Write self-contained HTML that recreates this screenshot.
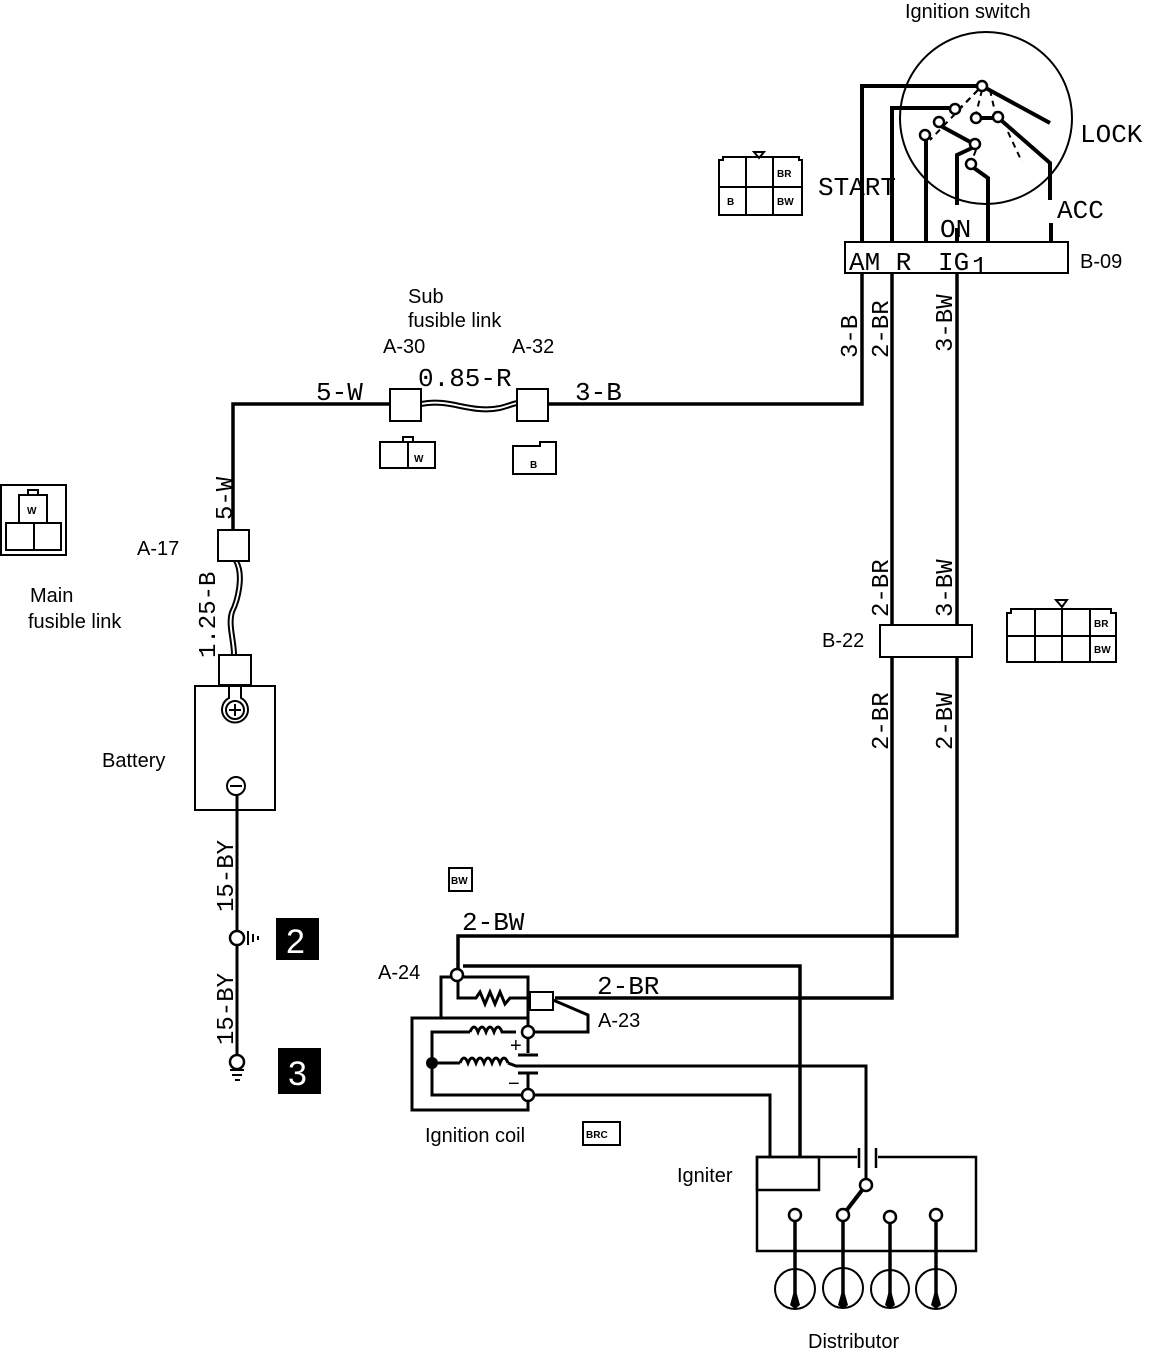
<!DOCTYPE html>
<html><head><meta charset="utf-8"><style>
html,body{margin:0;padding:0;background:#fff}
svg{display:block}
.s{font-family:"Liberation Sans",sans-serif;font-size:20px;fill:#000}
.m{font-family:"Liberation Mono",monospace;font-size:26px;fill:#000}
.sm{font-family:"Liberation Sans",sans-serif;font-size:10px;font-weight:bold;fill:#000}
</style></head><body>
<svg width="1152" height="1358" viewBox="0 0 1152 1358" xmlns="http://www.w3.org/2000/svg">
<g fill="none" stroke="#000" stroke-width="4">
<circle cx="986" cy="118" r="86" stroke-width="2"/>
<polyline points="862,242 862,86 981,86"/>
<line x1="982" y1="86" x2="1050" y2="123"/>
<polyline points="892,242 892,108 952,108"/>
<line x1="939" y1="125" x2="974" y2="144"/>
<line x1="926" y1="140" x2="926" y2="242"/>
<polyline points="972,148 957,155 957,205"/>
<line x1="980" y1="118" x2="995" y2="118"/>
<polyline points="1002,121 1050,163 1050,200"/>
<line x1="1051" y1="223" x2="1051" y2="242"/>
<polyline points="974,168 988,178 988,242"/>
<line x1="957" y1="228" x2="957" y2="242"/>
</g>
<g fill="none" stroke="#000" stroke-width="2" stroke-dasharray="6,5">
<line x1="978" y1="90" x2="960" y2="108"/>
<line x1="978" y1="90" x2="930" y2="140"/>
<line x1="982" y1="90" x2="976" y2="114"/>
<line x1="990" y1="90" x2="995" y2="112"/>
<line x1="976" y1="150" x2="972" y2="160"/>
<line x1="1008" y1="132" x2="1022" y2="162"/>
</g>
<g fill="#fff" stroke="#000" stroke-width="2.5">
<circle cx="982" cy="86" r="5"/><circle cx="955" cy="109" r="5"/><circle cx="939" cy="122" r="5"/>
<circle cx="925" cy="135" r="5"/><circle cx="976" cy="118" r="5"/><circle cx="998" cy="117" r="5"/>
<circle cx="975" cy="144" r="5"/><circle cx="971" cy="164" r="5"/>
</g>
<rect x="845" y="242" width="223" height="31" fill="#fff" stroke="#000" stroke-width="2"/>
<text class="m" x="849" y="270">AM R</text><text class="m" x="938" y="270">IG</text><text class="m" x="972" y="274" font-size="18">1</text>
<text class="s" x="1080" y="268">B-09</text>
<text class="s" x="905" y="18">Ignition switch</text>
<text class="m" x="818" y="195">START</text>
<text class="m" x="1080" y="142">LOCK</text>
<text class="m" x="1057" y="218">ACC</text>
<text class="m" x="940" y="237">ON</text>
<g fill="none" stroke="#000" stroke-width="2">
<path d="M719,160 h4 v-3 h76 v3 h3 v55 h-83z"/>
<line x1="746" y1="157" x2="746" y2="215"/><line x1="773" y1="157" x2="773" y2="215"/>
<line x1="719" y1="187" x2="802" y2="187"/>
<path d="M754,152 h10 l-5,6z"/>
</g>
<text class="sm" x="777" y="177">BR</text><text class="sm" x="727" y="205">B</text><text class="sm" x="777" y="205">BW</text>
<g fill="none" stroke="#000" stroke-width="3.5">
<polyline points="862,273 862,404 548,404"/>
<polyline points="892,273 892,625"/>
<polyline points="957,273 957,625"/>
<polyline points="892,657 892,998 555,998"/>
<polyline points="957,657 957,936 458,936 458,972"/>
<polyline points="463,966 800,966 800,1157"/>
<polyline points="421,404 233,404 233,530"/>
<polyline points="390,404 421,404"/>
</g>
<rect x="880" y="625" width="92" height="32" fill="#fff" stroke="#000" stroke-width="2"/>
<text class="s" x="822" y="647">B-22</text>
<g font-family="Liberation Mono,monospace" font-size="24">
<text transform="translate(857,358) rotate(-90)">3-B</text>
<text transform="translate(888,358) rotate(-90)">2-BR</text>
<text transform="translate(952,352) rotate(-90)">3-BW</text>
<text transform="translate(888,617) rotate(-90)">2-BR</text>
<text transform="translate(952,617) rotate(-90)">3-BW</text>
<text transform="translate(888,750) rotate(-90)">2-BR</text>
<text transform="translate(952,750) rotate(-90)">2-BW</text>
<text transform="translate(232,520) rotate(-90)">5-W</text>
<text transform="translate(215,658) rotate(-90)">1.25-B</text>
<text transform="translate(233,912) rotate(-90)">15-BY</text>
<text transform="translate(233,1045) rotate(-90)">15-BY</text>
</g>
<g fill="none" stroke="#000" stroke-width="2">
<path d="M1007,613 h4 v-4 h100 v4 h5 v49 h-109z"/>
<line x1="1035" y1="609" x2="1035" y2="662"/><line x1="1062" y1="609" x2="1062" y2="662"/><line x1="1090" y1="609" x2="1090" y2="662"/>
<line x1="1007" y1="636" x2="1116" y2="636"/>
<path d="M1056,600 h11 l-5,7z"/>
</g>
<text class="sm" x="1094" y="627">BR</text><text class="sm" x="1094" y="653">BW</text>
<rect x="390" y="389" width="31" height="32" fill="#fff" stroke="#000" stroke-width="2"/>
<rect x="517" y="389" width="31" height="32" fill="#fff" stroke="#000" stroke-width="2"/>
<path d="M421,402 C450,396 470,412 500,406 C508,404 512,402 517,401" fill="none" stroke="#000" stroke-width="2"/>
<path d="M421,406 C450,400 470,416 500,410 C508,408 512,406 517,405" fill="none" stroke="#000" stroke-width="2"/>
<text class="m" x="316" y="400" font-size="24">5-W</text>
<text class="m" x="418" y="386" font-size="26">0.85-R</text>
<text class="m" x="575" y="400" font-size="24">3-B</text>
<text class="s" x="383" y="353">A-30</text><text class="s" x="512" y="353">A-32</text>
<text class="s" x="408" y="303">Sub</text><text class="s" x="408" y="327">fusible link</text>
<g fill="none" stroke="#000" stroke-width="2">
<rect x="380" y="442" width="55" height="26"/><line x1="408" y1="442" x2="408" y2="468"/><rect x="403" y="437" width="10" height="5"/>
<path d="M513,446 h27 v-4 h16 v32 h-43z"/>
</g>
<text class="sm" x="414" y="462">W</text><text class="sm" x="530" y="468">B</text>
<rect x="218" y="530" width="31" height="31" fill="#fff" stroke="#000" stroke-width="2"/>
<path d="M234,561 C242,575 236,600 230,612 C226,625 232,640 232,655" fill="none" stroke="#000" stroke-width="2"/>
<path d="M238,561 C246,575 240,600 234,612 C230,625 236,640 236,655" fill="none" stroke="#000" stroke-width="2"/>
<text class="s" x="137" y="555">A-17</text>
<g fill="none" stroke="#000" stroke-width="2">
<rect x="1" y="485" width="65" height="70"/>
<rect x="19" y="495" width="28" height="28"/><rect x="28" y="490" width="10" height="5"/>
<rect x="6" y="523" width="28" height="27"/><rect x="34" y="523" width="27" height="27"/>
</g>
<text class="sm" x="27" y="514">W</text>
<text class="s" x="30" y="602">Main</text><text class="s" x="28" y="628">fusible link</text>
<rect x="219" y="655" width="32" height="30" fill="#fff" stroke="#000" stroke-width="2"/>
<rect x="195" y="686" width="80" height="124" fill="#fff" stroke="#000" stroke-width="2"/>
<path d="M229,686 v12 a13,13 0 1,0 12,0 v-12" fill="none" stroke="#000" stroke-width="2"/>
<circle cx="235" cy="710" r="9" fill="none" stroke="#000" stroke-width="2"/>
<path d="M229,710 h12 M235,704 v12" stroke="#000" stroke-width="2"/>
<circle cx="236" cy="786" r="9" fill="none" stroke="#000" stroke-width="2"/>
<path d="M230,786 h12" stroke="#000" stroke-width="2"/>
<text class="s" x="102" y="767">Battery</text>
<line x1="237" y1="795" x2="237" y2="1055" stroke="#000" stroke-width="3"/>
<circle cx="237" cy="938" r="7" fill="#fff" stroke="#000" stroke-width="2.5"/>
<path d="M248,931 v14 M253,934 v8 M258,936 v4" stroke="#000" stroke-width="2"/>
<circle cx="237" cy="1062" r="7" fill="#fff" stroke="#000" stroke-width="2.5"/>
<path d="M230,1070 h14 M232,1075 h10 M235,1080 h5" stroke="#000" stroke-width="2"/>
<rect x="276" y="918" width="43" height="42" fill="#000"/>
<text x="286" y="953" font-family="Liberation Sans,sans-serif" font-size="34" fill="#fff">2</text>
<rect x="278" y="1048" width="43" height="46" fill="#000"/>
<text x="288" y="1085" font-family="Liberation Sans,sans-serif" font-size="34" fill="#fff">3</text>
<rect x="449" y="868" width="23" height="23" fill="none" stroke="#000" stroke-width="2"/>
<text class="sm" x="451" y="884" font-size="8">BW</text>
<text class="m" x="462" y="930" font-size="24">2-BW</text>
<text class="m" x="597" y="994" font-size="24">2-BR</text>
<text class="s" x="378" y="979">A-24</text>
<text class="s" x="598" y="1027">A-23</text>
<g fill="none" stroke="#000" stroke-width="3">
<polyline points="441,1017 441,977 528,977 528,1017"/>
<polyline points="458,978 458,998 476,998 480,992 485,1004 490,992 495,1004 500,992 505,1004 510,998 530,998"/>
<polyline points="528,1018 412,1018 412,1110 528,1110 528,1100"/>
<polyline points="553,1000 588,1015 588,1032 533,1032"/>
<polyline points="432,1063 432,1032 470,1032"/>
<polyline points="432,1063 432,1095 522,1095"/>
<polyline points="432,1063 460,1063"/>
<polyline points="508,1063 516,1066 866,1066 866,1180"/>
<polyline points="533,1095 770,1095 770,1157"/>
<line x1="528" y1="1038" x2="528" y2="1053"/><line x1="518" y1="1055" x2="538" y2="1055"/>
<line x1="518" y1="1073" x2="538" y2="1073"/><line x1="528" y1="1073" x2="528" y2="1089"/>
<line x1="528" y1="1017" x2="528" y2="1026"/>
</g>
<path d="M470,1032 q4,-10 8,0 q4,-10 8,0 q4,-10 8,0 q4,-10 8,0 l14,0" fill="none" stroke="#000" stroke-width="3"/>
<path d="M460,1063 q4,-10 8,0 q4,-10 8,0 q4,-10 8,0 q4,-10 8,0 q4,-10 8,0 q4,-10 8,0" fill="none" stroke="#000" stroke-width="3"/>
<rect x="530" y="992" width="23" height="18" fill="#fff" stroke="#000" stroke-width="2"/>
<circle cx="432" cy="1063" r="6" fill="#000"/>
<circle cx="457" cy="975" r="6" fill="#fff" stroke="#000" stroke-width="2.5"/>
<circle cx="528" cy="1032" r="6" fill="#fff" stroke="#000" stroke-width="2.5"/>
<circle cx="528" cy="1095" r="6" fill="#fff" stroke="#000" stroke-width="2.5"/>
<text class="s" x="510" y="1052" font-size="20">+</text><text class="s" x="508" y="1090" font-size="20">−</text>
<text class="s" x="425" y="1142">Ignition coil</text>
<rect x="583" y="1122" width="37" height="23" fill="none" stroke="#000" stroke-width="2"/>
<text class="sm" x="586" y="1138" font-size="9">BRC</text>
<g fill="none" stroke="#000" stroke-width="2.5">
<polyline points="857,1157 757,1157 757,1251 976,1251 976,1157 878,1157"/>
<rect x="757" y="1157" width="62" height="33"/>
<line x1="859" y1="1148" x2="859" y2="1168"/><line x1="876" y1="1148" x2="876" y2="1168"/>
</g>
<line x1="866" y1="1185" x2="843" y2="1215" stroke="#000" stroke-width="4"/>
<g stroke="#000" stroke-width="3.5">
<line x1="795" y1="1215" x2="795" y2="1305"/><line x1="843" y1="1215" x2="843" y2="1305"/>
<line x1="890" y1="1217" x2="890" y2="1305"/><line x1="936" y1="1215" x2="936" y2="1305"/>
</g>
<g fill="none" stroke="#000" stroke-width="2">
<circle cx="795" cy="1289" r="20"/><circle cx="843" cy="1288" r="20"/>
<circle cx="890" cy="1289" r="19"/><circle cx="936" cy="1289" r="20"/>
</g>
<g fill="#000">
<path d="M790,1305 l5,-18 l5,18 l-5,4z"/><path d="M838,1305 l5,-18 l5,18 l-5,4z"/>
<path d="M885,1305 l5,-18 l5,18 l-5,4z"/><path d="M931,1305 l5,-18 l5,18 l-5,4z"/>
</g>
<g fill="#fff" stroke="#000" stroke-width="2.5">
<circle cx="866" cy="1185" r="6"/><circle cx="795" cy="1215" r="6"/><circle cx="843" cy="1215" r="6"/>
<circle cx="890" cy="1217" r="6"/><circle cx="936" cy="1215" r="6"/>
</g>
<text class="s" x="677" y="1182">Igniter</text>
<text class="s" x="808" y="1348">Distributor</text>
</svg>
</body></html>
